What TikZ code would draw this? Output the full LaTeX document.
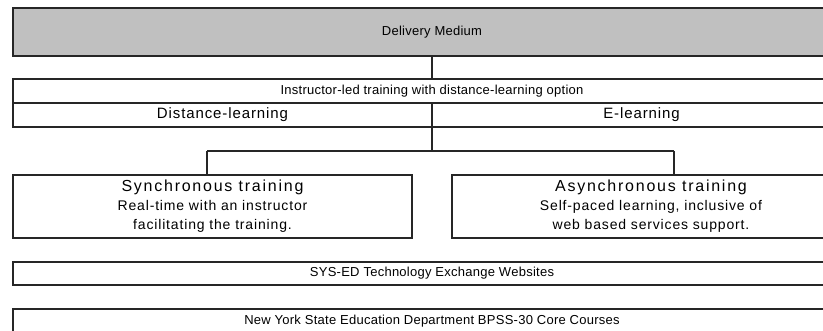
\documentclass[tikz,border=0pt]{standalone}
\usepackage{fontspec}
\setmainfont{Liberation Sans}[LetterSpace=2]
\newfontfamily\rowfont{Liberation Sans}[LetterSpace=6]
\newfontfamily\blkheadfont{Liberation Sans}[LetterSpace=11]
\newfontfamily\blkbodyfont{Liberation Sans}[LetterSpace=6]
\newcommand{\blkhead}[1]{{\blkheadfont\fontsize{16}{19}\selectfont #1}}
\definecolor{clhead}{HTML}{C0C0C0}
\definecolor{clline}{HTML}{262626}
\begin{document}
\begin{tikzpicture}[x=1pt, y=-1pt, font=\fontsize{13}{18}\selectfont]
        \tikzstyle{bar} = [draw=clline, line width=1.4pt, rectangle, inner sep=0pt, text centered, minimum height=24pt]
        \tikzstyle{rowtxt} = [bar, minimum width=419pt, font=\rowfont\fontsize{15}{18}\selectfont]
        \tikzstyle{blk} = [bar, align=center, minimum height=63pt, minimum width=399pt, font=\blkbodyfont\fontsize{14}{19}\selectfont]
        \tikzstyle{wire} = [draw=clline, line width=1.4pt]
    \clip (0,0) rectangle (823,331);
    \useasboundingbox (0,0) rectangle (823,331);
    \fill[white] (0,0) rectangle (823,331);
    % top of the tree
    \node[bar, fill=clhead, minimum width=838pt, minimum height=48pt] (dm) at (432,32) {Delivery Medium};
    \node[bar, minimum width=838pt] (ilt) at (432,91) {Instructor-led training with distance-learning option};
    \node[rowtxt] (dl) at (222.5,115) {Distance-learning};
    \node[rowtxt] (el) at (641.5,115) {E-learning};
    \draw[wire] (dm.south) -- (ilt.north);
    % the two kinds of training
    \node[blk] (sync) at (212.5,206.5) {\blkhead{Synchronous training}\\Real-time with an instructor\\facilitating the training.};
    \node[blk, minimum width=398pt] (async) at (651,206.5) {\blkhead{Asynchronous training}\\Self-paced learning, inclusive of\\web based services support.};
    \coordinate (fork) at (432,151);
    \coordinate (sl) at (207,151);
    \coordinate (al) at (674,151);
    \draw[wire] (fork |- dl.south) -- (fork);
    \draw[wire] (sl) -- (al);
    \draw[wire] (sl) -- (sl |- sync.north);
    \draw[wire] (al) -- (al |- async.north);
    % bottom rows
    \node[bar, minimum width=838pt, minimum height=23pt] (sys) at (432,273.5) {SYS-ED Technology Exchange Websites};
    \node[bar, minimum width=838pt] (nys) at (432,321) {New York State Education Department BPSS-30 Core Courses};
  \end{tikzpicture}
\end{document}
